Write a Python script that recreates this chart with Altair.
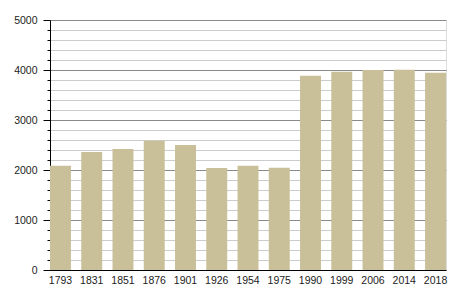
import altair as alt
import pandas as pd

years = ["1793", "1831", "1851", "1876", "1901", "1926", "1954", "1975",
         "1990", "1999", "2006", "2014", "2018"]
population = [2086, 2360, 2420, 2587, 2500, 2040, 2086, 2047,
              3887, 3967, 4000, 4005, 3947]
y_ticks = list(range(0, 5001, 200))

df = pd.DataFrame({"year": years, "pop": population})

FONT = "Liberation Sans"

chart = alt.Chart(df).mark_bar(color="#c9bf98").encode(
    x=alt.X("year:N", sort=years, title=None,
            scale=alt.Scale(paddingInner=0.33, paddingOuter=0),
            axis=alt.Axis(labelAngle=0, ticks=False, domainColor="#000000",
                          labelFont=FONT, labelFontSize=10.5, labelColor="#222222",
                          labelPadding=5, grid=False)),
    y=alt.Y("pop:Q", title=None,
            scale=alt.Scale(domain=[0, 5000], nice=False),
            axis=alt.Axis(values=y_ticks, format="d",
                          labelExpr="datum.value % 1000 === 0 ? datum.label : ''",
                          domainColor="#000000",
                          tickColor="#000000",
                          tickSize={"condition": {"test": "datum.value % 1000 === 0", "value": 7}, "value": 3},
                          gridColor={"condition": {"test": "datum.value % 1000 === 0", "value": "#8a8a8a"}, "value": "#cccccc"},
                          labelFont=FONT, labelFontSize=10.5, labelColor="#222222",
                          labelPadding=6))
).properties(
    width=396, height=250,
    padding={"left": 50, "top": 20, "right": 9, "bottom": 30},
    autosize=alt.AutoSizeParams(type="none"),
).configure_view(stroke=None).configure(background="#ffffff")

chart.save("out.html", embed_options={"renderer": "svg", "actions": False})
